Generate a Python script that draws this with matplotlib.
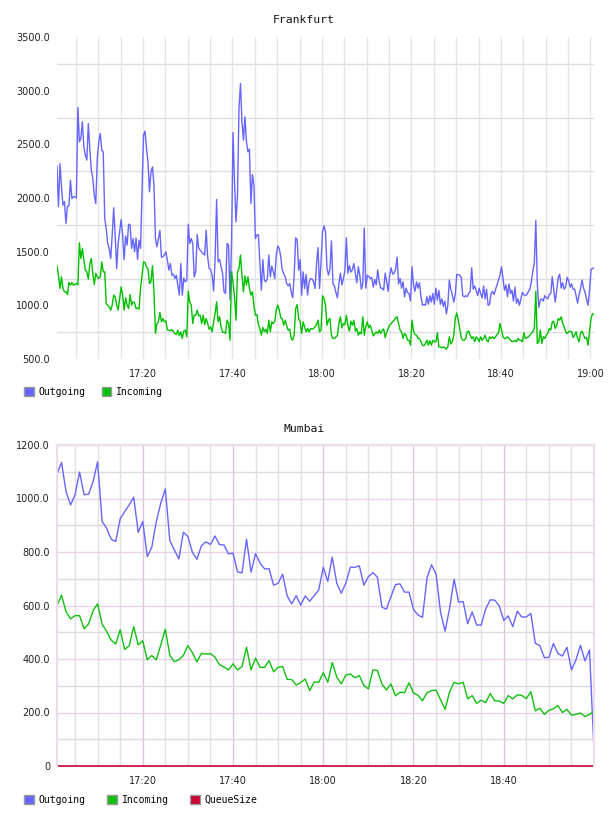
#!/usr/bin/env python3

import matplotlib
matplotlib.use('Agg')
import matplotlib.pyplot as plt
import matplotlib.dates as mdates
import matplotlib.patches as mpatches
from matplotlib.ticker import FixedLocator, FuncFormatter
import pandas as pd


# Frankfurt: one sample every 20 s
frankfurt_start = '2013-05-14 17:00:47'
frankfurt_step = '20s'
frankfurt_outgoing = [
    2300, 1918, 2320, 2100, 1933, 1965, 1763, 1924, 1927, 2166,
    1995, 2011, 2011, 2000, 2843, 2523, 2554, 2710, 2477, 2400,
    2353, 2694, 2450, 2260, 2182, 2027, 1949, 2368, 2523, 2601,
    2446, 2430, 1809, 1716, 1576, 1530, 1436, 1654, 1909, 1654,
    1343, 1576, 1690, 1800, 1654, 1427, 1645, 1561, 1756, 1750,
    1530, 1622, 1498, 1628, 1427, 1607, 1530, 2058, 2586, 2623,
    2461, 2337, 2058, 2244, 2290, 2120, 1622, 1545, 1622, 1700,
    1449, 1452, 1470, 1498, 1421, 1328, 1390, 1281, 1290, 1250,
    1280, 1188, 1095, 1390, 1095, 1253, 1219, 1235, 1756, 1576,
    1622, 1576, 1265, 1312, 1660, 1530, 1514, 1498, 1480, 1468,
    1700, 1452, 1343, 1334, 1281, 1132, 1436, 1986, 1405, 1427,
    1359, 1297, 1126, 1110, 1576, 1561, 1054, 1576, 2610, 2151,
    1778, 2027, 2834, 3067, 2710, 2539, 2756, 2523, 2430, 2455,
    1949, 2219, 2120, 1622, 1654, 1660, 1405, 1141, 1427, 1235,
    1219, 1250, 1468, 1265, 1365, 1312, 1250, 1468, 1552, 1530,
    1452, 1328, 1297, 1265, 1203, 1182, 1203, 1126, 1070, 1281,
    1628, 1613, 1328, 1427, 1095, 1312, 1157, 1288, 1095, 1219,
    1250, 1245, 1219, 1157, 1390, 1539, 1157, 1405, 1684, 1740,
    1684, 1343,
    1281, 1340, 1600, 1200, 1180, 1120, 1070, 1200, 1300, 1190,
    1250, 1320, 1630, 1300, 1370, 1310, 1330, 1390, 1300, 1210,
    1360, 1280, 1150, 1200, 1720, 1160, 1280, 1270, 1250, 1260,
    1170, 1240, 1190, 1330, 1220, 1160, 1160, 1140, 1300, 1220,
    1130, 1280, 1350, 1290, 1300, 1340, 1450, 1200, 1250, 1160,
    1220, 1080, 1160, 1120, 1110, 1040, 1360, 1190, 1130, 1220,
    1160, 1210, 1080, 1000, 1010, 1000, 1080, 1010, 1090, 1030,
    1110, 1010, 1160, 1050, 1140, 1010, 1060, 990, 1040, 920,
    1000, 1235, 1150, 1100, 1030, 1100, 1288, 1285, 1280, 1260,
    1090, 1080, 1090, 1080, 1110, 1130, 1350, 1150, 1180, 1140,
    1090, 1160, 1110, 1070, 1180, 1060, 1150, 1000, 1010, 1110,
    1130, 1100, 1150, 1190, 1240, 1280, 1360, 1250, 1140, 1190,
    1080, 1200, 1110, 1140, 1040, 1170, 1020, 1060, 1000, 1060,
    1120, 1100, 1090, 1100, 1130, 1150, 1220, 1320, 1400, 1790,
    1200, 980, 1050, 1060, 1040, 1090, 1070, 1060, 1100, 1110,
    1265, 1150, 1030, 1140, 1260, 1290, 1160, 1210, 1150, 1170,
    1260, 1230, 1170, 1200, 1150, 1150, 1090, 1020, 1100, 1160,
    1235, 1160, 1120, 1060, 1000, 1140, 1330, 1345, 1345,
]
frankfurt_incoming = [
    1365, 1281, 1157, 1265, 1157, 1126, 1126, 1101, 1213, 1188,
    1213, 1188, 1194, 1203, 1190, 1582, 1436, 1530, 1421, 1328,
    1312, 1244, 1390, 1436, 1297, 1194, 1297, 1265, 1250, 1265,
    1405, 1312, 1312, 1017, 1002, 986, 955, 1002, 1095, 1079,
    1002, 955, 1064, 1172, 1095, 955, 1070, 1002, 970, 1101,
    1002, 1033, 1023, 970, 975, 964, 1157, 1281, 1405, 1399,
    1359, 1343, 1203, 1219, 1368, 1126, 738, 831, 846, 933,
    846, 877, 846, 856, 769, 769, 763, 775, 753, 738,
    728, 769, 716, 753, 691, 762, 769, 707, 1132, 1033,
    1002, 831, 908, 908, 955, 902, 908, 831, 908, 821,
    877, 831, 778, 800, 753, 846, 924, 1033, 846, 893,
    800, 750, 750, 738, 862, 831, 675, 1312, 1219, 1079,
    862, 1312, 1343, 1468, 1281, 1126, 1275, 1188, 1265, 1157,
    1095, 1126, 1002, 908, 915, 821, 784, 722, 794, 753,
    778, 738, 862, 753, 846, 831, 852, 958, 1002, 958,
    884, 877, 815, 862, 809, 769, 778, 691, 675, 722,
    970, 1008, 877, 846, 738, 846, 800, 753, 784, 753,
    784, 778, 784, 800, 821, 862, 753, 769, 1089, 1064,
    1002, 815,
    862, 877, 722, 691, 691, 705, 722, 831, 893, 790,
    831, 820, 908, 810, 760, 852, 815, 862, 760, 784,
    722, 750, 735, 893, 722, 800, 846, 790, 815, 769,
    715, 735, 753, 738, 769, 738, 769, 780, 700, 750,
    784, 815, 830, 846, 862, 884, 893, 830, 769, 753,
    691, 738, 722, 675, 675, 629, 862, 760, 728, 722,
    691, 691, 660, 629, 623, 645, 675, 629, 670, 629,
    675, 660, 660, 744, 613, 613, 605, 613, 605, 592,
    613, 707, 640, 660, 722, 877, 930, 860, 780, 700,
    675, 675, 691, 753, 760, 722, 691, 707, 660, 707,
    691, 660, 707, 675, 691, 722, 675, 660, 707, 691,
    707, 691, 707, 730, 740, 831, 769, 707, 691, 691,
    707, 691, 675, 660, 665, 675, 660, 691, 675, 675,
    660, 744, 691, 700, 707, 722, 738, 753, 784, 1132,
    644, 660, 769, 644, 707, 691, 722, 738, 784, 769,
    846, 852, 784, 815, 877, 862, 893, 831, 800, 753,
    738, 753, 760, 753, 700, 722, 753, 691, 660, 744,
    760, 722, 691, 700, 629, 760, 877, 920, 920,
]
frankfurt_yticks = [500, 1000, 1500, 2000, 2500, 3000, 3500]
frankfurt_xticks = ['17:20', '17:40', '18:00', '18:20', '18:40', '19:00']

# Mumbai: one sample per minute
mumbai_start = '2013-05-14 17:01:00'
mumbai_step = '1min'
mumbai_outgoing = [
    1091, 1135, 1026, 976, 1014, 1099, 1014, 1016, 1064, 1137,
    914, 889, 848, 839, 924, 951, 976, 1005, 873, 914,
    783, 817, 914, 983, 1036, 843, 808, 774, 874, 858,
    799, 773, 823, 838, 828, 860, 828, 826, 793, 796,
    725, 722, 848, 725, 794, 758, 737, 737, 676, 683,
    717, 636, 606, 637, 601, 636, 616, 637, 658, 743,
    690, 781, 683, 646, 683, 743, 743, 748, 676, 708,
    723, 706, 594, 586, 633, 678, 681, 650, 650, 586,
    564, 556, 703, 752, 718, 574, 504, 590, 698, 612,
    615, 532, 576, 527, 527, 587, 621, 620, 599, 544,
    561, 521, 579, 557, 557, 570, 459, 450, 405, 406,
    458, 421, 411, 444, 359, 397, 451, 393, 434, 60,
]
mumbai_incoming = [
    600, 638, 577, 550, 562, 562, 513, 531, 581, 606,
    530, 503, 471, 456, 509, 436, 449, 521, 453, 468,
    397, 413, 397, 453, 511, 414, 390, 397, 413, 450,
    424, 389, 421, 418, 420, 407, 379, 370, 359, 382,
    359, 372, 444, 359, 403, 369, 369, 394, 352, 369,
    372, 324, 323, 303, 312, 325, 282, 314, 313, 349,
    313, 387, 332, 307, 340, 344, 330, 338, 301, 288,
    359, 357, 307, 284, 307, 262, 276, 274, 311, 273,
    264, 244, 274, 282, 284, 247, 212, 277, 313, 307,
    313, 251, 263, 234, 246, 237, 271, 244, 243, 234,
    263, 251, 266, 264, 252, 278, 206, 216, 193, 208,
    214, 226, 200, 212, 190, 193, 198, 185, 193, 206,
]
mumbai_queue = [0] * len(mumbai_outgoing)
mumbai_yticks = [0, 200, 400, 600, 800, 1000, 1200]
mumbai_xticks = ['17:20', '17:40', '18:00', '18:20', '18:40']

OUT_C = '#6666ff'
IN_C = '#00c000'
Q_C = '#cc0033'
TICK_FONT = {'family': 'DejaVu Sans', 'size': 7}
MONO = 'DejaVu Sans Mono'


def to_times(day, labels):
    return [pd.Timestamp(day + ' ' + s) for s in labels]


def label_fmt(v, pos):
    return '0' if v == 0 else '%.1f' % v


def base_axes(ax, times, yticks, ylim, xticks):
    ax.set_xlim(times[0], times[-1])
    ax.set_ylim(*ylim)
    ax.set_axisbelow(True)
    ax.yaxis.set_major_locator(FixedLocator(yticks))
    ax.yaxis.set_major_formatter(FuncFormatter(label_fmt))
    ax.xaxis.set_major_locator(FixedLocator(mdates.date2num(xticks)))
    ax.xaxis.set_major_formatter(mdates.DateFormatter('%H:%M'))
    ax.xaxis.set_minor_locator(mdates.MinuteLocator(byminute=range(0, 60, 5)))
    ax.tick_params(which='both', length=0)
    ax.tick_params(axis='y', pad=5, labelcolor='#222222')
    ax.tick_params(axis='x', pad=7, labelcolor='#222222')
    for lab in ax.get_xticklabels() + ax.get_yticklabels():
        lab.set_fontfamily(TICK_FONT['family'])
        lab.set_fontsize(TICK_FONT['size'])


def legend(fig, y, entries, spacing):
    handles = [mpatches.Patch(facecolor=c, edgecolor='#999999', linewidth=1, label=l)
               for l, c in entries]
    fig.legend(handles=handles, loc='center left', bbox_to_anchor=(24 / 608, y),
               ncol=len(handles), frameon=False, borderpad=0, borderaxespad=0,
               handlelength=1.0, handleheight=1.0, handletextpad=0.5,
               columnspacing=spacing, prop={'family': MONO, 'size': 7})


def main():
    fig = plt.figure(figsize=(6.08, 8.16), dpi=100)

    # Frankfurt
    ft = pd.date_range(frankfurt_start, periods=len(frankfurt_outgoing), freq=frankfurt_step)
    ax1 = fig.add_axes([57 / 608, 1 - 359 / 816, 537 / 608, 322 / 816])
    ax1.plot(ft, frankfurt_outgoing, color=OUT_C, lw=1.0)
    ax1.plot(ft, frankfurt_incoming, color=IN_C, lw=1.0)
    base_axes(ax1, ft, frankfurt_yticks, (500, 3500), to_times('2013-05-14', frankfurt_xticks))
    ax1.set_yticks([750, 1250, 1750, 2250, 2750, 3250], minor=True)
    ax1.grid(True, axis='y', which='minor', color='#dddddd', lw=1)
    ax1.grid(True, axis='x', which='both', color='#e6e6e6', lw=1)
    for s in ax1.spines.values():
        s.set_visible(False)
    fig.text(0.5, 1 - 20 / 816, 'Frankfurt', ha='center', va='center',
             family=MONO, fontsize=8.2, color='#111111')
    legend(fig, 1 - 392 / 816, [('Outgoing', OUT_C), ('Incoming', IN_C)], 1.65)

    # Mumbai
    mt = pd.date_range(mumbai_start, periods=len(mumbai_outgoing), freq=mumbai_step)
    ax2 = fig.add_axes([57 / 608, 1 - 766 / 816, 537 / 608, 321 / 816])
    ax2.plot(mt, mumbai_outgoing, color=OUT_C, lw=1.0)
    ax2.plot(mt, mumbai_incoming, color='#10c010', lw=1.0)
    ax2.plot(mt, mumbai_queue, color=Q_C, lw=1.2, clip_on=False)
    base_axes(ax2, mt, mumbai_yticks, (0, 1200), to_times('2013-05-14', mumbai_xticks))
    ax2.set_yticks(range(100, 1200, 200), minor=True)
    ax2.grid(True, axis='y', which='major', color='#e8d4e8', lw=1)
    ax2.grid(True, axis='y', which='minor', color='#e0dadf', lw=1)
    ax2.grid(True, axis='x', which='major', color='#dcc4dc', lw=1)
    ax2.grid(True, axis='x', which='minor', color='#e4e0e4', lw=1)
    ax2.spines['bottom'].set_visible(False)
    for k in ('left', 'top', 'right'):
        ax2.spines[k].set_color('#ecdcec')
        ax2.spines[k].set_linewidth(1.5)
    fig.text(0.5, 1 - 429 / 816, 'Mumbai', ha='center', va='center',
             family=MONO, fontsize=8.2, color='#111111')
    legend(fig, 1 - 800 / 816, [('Outgoing', OUT_C), ('Incoming', '#10c010'),
                                ('QueueSize', Q_C)], 2.2)

    fig.savefig('out.png', dpi=100)


if __name__ == '__main__':
    main()
